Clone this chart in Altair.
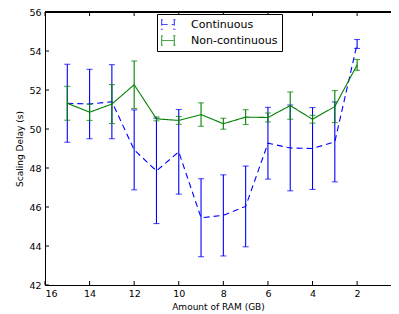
import altair as alt
import pandas as pd

# ---- data ----
ram = [15, 14, 13, 12, 11, 10, 9, 8, 7, 6, 5, 4, 3, 2]
cont_mean = [51.32, 51.28, 51.40, 48.93, 47.85, 48.83, 45.45, 45.57, 46.03, 49.27, 49.03, 49.00, 49.34, 54.36]
cont_err = [2.00, 1.78, 1.90, 2.05, 2.70, 2.17, 2.00, 2.08, 2.07, 1.84, 2.20, 2.10, 2.05, 0.23]
noncont_mean = [51.32, 50.86, 51.28, 52.27, 50.52, 50.44, 50.74, 50.27, 50.61, 50.59, 51.20, 50.50, 51.15, 53.29]
noncont_err = [0.87, 0.42, 1.00, 1.22, 0.10, 0.20, 0.60, 0.28, 0.38, 0.23, 0.70, 0.20, 0.82, 0.28]
series_names = ["Continuous", "Non-continuous"]
series_colors = ["#0000ff", "#008000"]
series_dash = [[6, 4], [1, 0]]
x_ticks = [16, 14, 12, 10, 8, 6, 4, 2]
y_ticks = [42, 44, 46, 48, 50, 52, 54, 56]

rows = []
for name, means, errs in ((series_names[0], cont_mean, cont_err),
                          (series_names[1], noncont_mean, noncont_err)):
    for r, m, e in zip(ram, means, errs):
        rows.append(dict(series=name, ram=r, mean=m, lo=m - e, hi=m + e))
df = pd.DataFrame(rows)

W, H = 346, 273
FONT = "DejaVu Sans"

xscale = alt.Scale(domain=[0.48, 16], reverse=True, nice=False, zero=False)
yscale = alt.Scale(domain=[42, 56], nice=False, zero=False)

x_axis = alt.Axis(values=x_ticks, format="d", ticks=False, domain=True, domainColor="black",
                  domainWidth=1, grid=False,
                  labelFont=FONT, labelFontSize=9.5, labelColor="black", labelPadding=3,
                  titleFont=FONT, titleFontSize=9, titleFontWeight="normal", titleColor="black",
                  titlePadding=5)
y_axis = alt.Axis(values=y_ticks, format="d", ticks=False, domain=True, domainColor="black",
                  domainWidth=1, grid=False,
                  labelFont=FONT, labelFontSize=9.5, labelColor="black", labelPadding=4,
                  titleFont=FONT, titleFontSize=9, titleFontWeight="normal", titleColor="black",
                  titlePadding=4)
XT = "Amount of RAM (GB)"
YT = "Scaling Delay (s)"


def X(f):
    return alt.X(f"{f}:Q", scale=xscale, axis=x_axis, title=XT)


def Y(f):
    return alt.Y(f"{f}:Q", scale=yscale, axis=y_axis, title=YT)


color_scale = alt.Scale(domain=series_names, range=series_colors)
dash_scale = alt.Scale(domain=series_names, range=series_dash)

sym = ("M-1,-0.75L-1,0.75M-1.2,-0.75L-0.8,-0.75M-1.2,0.75L-0.8,0.75"
       "M-1,0L1,0M1,-0.75L1,0.75M0.8,-0.75L1.2,-0.75M0.8,0.75L1.2,0.75")
legend = alt.Legend(title=None, orient="none", legendX=112, legendY=2,
                    symbolType=sym, symbolSize=160, symbolStrokeWidth=1.2,
                    symbolFillColor="transparent", clipHeight=13,
                    labelFont=FONT, labelFontSize=11, labelColor="black",
                    strokeColor="black", fillColor="white", padding=4,
                    rowPadding=3, labelOffset=16, cornerRadius=0)

color = alt.Color("series:N", scale=color_scale, legend=legend)
dash = alt.StrokeDash("series:N", scale=dash_scale, legend=legend)

base = alt.Chart(df)
layers = []
for name in series_names:
    b = base.transform_filter(alt.datum.series == name)
    layers.append(b.mark_rule(strokeWidth=1.1).encode(x=X("ram"), y=Y("lo"), y2="hi", color=color))
    layers.append(b.mark_tick(orient="horizontal", size=6, thickness=1.1).encode(x=X("ram"), y=Y("lo"), color=color))
    layers.append(b.mark_tick(orient="horizontal", size=6, thickness=1.1).encode(x=X("ram"), y=Y("hi"), color=color))
    layers.append(b.mark_line(strokeWidth=1.1).encode(x=X("ram"), y=Y("mean"), color=color, strokeDash=dash))

# inward tick marks and top spine (matplotlib classic style)
xt = alt.Chart(pd.DataFrame({"t": x_ticks}))
yt = alt.Chart(pd.DataFrame({"t": y_ticks}))
ticks = [
    xt.mark_rule(color="black", strokeWidth=1).encode(x=X("t"), y=alt.value(H), y2=alt.value(H - 4)),
    xt.mark_rule(color="black", strokeWidth=1).encode(x=X("t"), y=alt.value(0), y2=alt.value(4)),
    yt.mark_rule(color="black", strokeWidth=1).encode(y=Y("t"), x=alt.value(0), x2=alt.value(4)),
    xt.mark_rule(color="black", strokeWidth=1).encode(x=alt.value(0), x2=alt.value(W), y=alt.value(0)),
]

chart = alt.layer(*layers, *ticks).properties(
    width=W, height=H,
    autosize=alt.AutoSizeParams(type="none"),
    padding={"left": 37, "top": 4, "right": 0, "bottom": 29},
).configure_view(stroke=None).configure(background="white")

chart.save("out.html", embed_options={"renderer": "svg", "actions": False})
